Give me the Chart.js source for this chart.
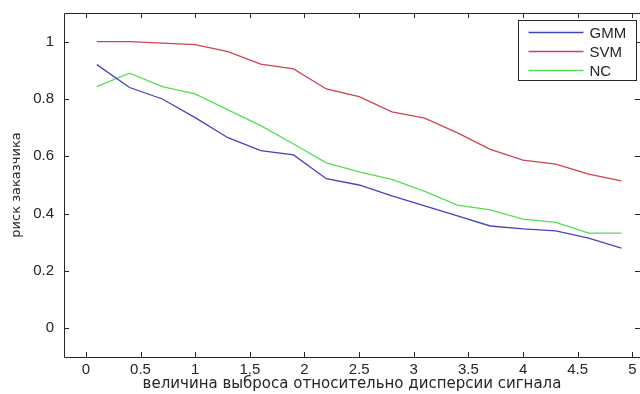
<!DOCTYPE html>
<html>
<head>
<meta charset="utf-8">
<script src="https://cdn.jsdelivr.net/npm/chart.js@4.4.1/dist/chart.umd.min.js"></script>
<style>
  html, body { margin: 0; padding: 0; background: #ffffff; }
  #wrap { width: 640px; height: 394px; position: relative; }
</style>
</head>
<body>
<div id="wrap"><canvas id="c" width="640" height="394"></canvas></div>
<script>
// ---- data ----
const xValues = [0.1, 0.4, 0.7, 1.0, 1.3, 1.6, 1.9, 2.2, 2.5, 2.8, 3.1, 3.4, 3.7, 4.0, 4.3, 4.6, 4.9];
const gmm = [0.92, 0.84, 0.80, 0.735, 0.665, 0.62, 0.605, 0.522, 0.50, 0.462, 0.427, 0.392, 0.357, 0.347, 0.34, 0.315, 0.28];
const svm = [1.0, 1.0, 0.995, 0.99, 0.965, 0.922, 0.905, 0.835, 0.808, 0.755, 0.733, 0.682, 0.624, 0.587, 0.573, 0.538, 0.514];
const nc  = [0.843, 0.89, 0.843, 0.818, 0.762, 0.707, 0.643, 0.577, 0.546, 0.52, 0.478, 0.43, 0.413, 0.381, 0.37, 0.332, 0.332];
const seriesNames = ['GMM', 'SVM', 'NC'];
const xTickValues = [0, 0.5, 1, 1.5, 2, 2.5, 3, 3.5, 4, 4.5, 5];
const yTickValues = [0, 0.2, 0.4, 0.6, 0.8, 1];
const xTitle = 'величина выброса относительно дисперсии сигнала';
const yTitle = 'риск заказчика';

const colors = ['#4444bb', '#cc4455', '#55dd55'];
const FONT = '"Liberation Sans", Arial, sans-serif';
const TFONT = '"DejaVu Sans", sans-serif';
const AXIS = '#262626';

function toPoints(vals) { return xValues.map((x, i) => ({ x: x, y: vals[i] })); }

const boxPlugin = {
  id: 'matlabBox',
  afterDatasetsDraw(chart) {
    const ctx = chart.ctx;
    const a = chart.chartArea;
    const xs = chart.scales.x, ys = chart.scales.y;
    const L = 5;
    ctx.save();
    ctx.strokeStyle = AXIS;
    ctx.lineWidth = 1;
    ctx.beginPath();
    ctx.rect(Math.round(a.left) + 0.5, Math.round(a.top) + 0.5, Math.round(a.right - a.left), Math.round(a.bottom - a.top));
    ctx.stroke();
    ctx.beginPath();
    xs.ticks.forEach(t => {
      const px = Math.round(xs.getPixelForValue(t.value)) + 0.5;
      ctx.moveTo(px, a.bottom); ctx.lineTo(px, a.bottom - L);
      ctx.moveTo(px, a.top); ctx.lineTo(px, a.top + L);
    });
    ys.ticks.forEach(t => {
      const py = Math.round(ys.getPixelForValue(t.value)) + 0.5;
      ctx.moveTo(a.left, py); ctx.lineTo(a.left + L, py);
      ctx.moveTo(a.right, py); ctx.lineTo(a.right - L, py);
    });
    ctx.stroke();

    // legend box (top-right, inside axes)
    const bw = 118, bh = 60;
    const bx = Math.round(a.right - 4 - bw) + 0.5, by = Math.round(a.top + 7) + 0.5;
    ctx.fillStyle = '#ffffff';
    ctx.fillRect(bx, by, bw, bh);
    ctx.strokeStyle = AXIS;
    ctx.strokeRect(bx, by, bw, bh);
    ctx.font = '15px ' + FONT;
    ctx.textBaseline = 'middle';
    ctx.textAlign = 'left';
    chart.data.datasets.forEach((ds, i) => {
      const cy = Math.round(by + 11 + i * 19) + 0.5;
      ctx.strokeStyle = ds.borderColor;
      ctx.lineWidth = 1.3;
      ctx.beginPath();
      ctx.moveTo(bx + 10, cy); ctx.lineTo(bx + 65, cy);
      ctx.stroke();
      ctx.fillStyle = AXIS;
      ctx.fillText(ds.label, bx + 71, cy + 1);
    });
    ctx.restore();
  }
};

new Chart(document.getElementById('c'), {
  type: 'line',
  data: {
    datasets: [
      { label: seriesNames[0], data: toPoints(gmm), borderColor: colors[0] },
      { label: seriesNames[1], data: toPoints(svm), borderColor: colors[1] },
      { label: seriesNames[2], data: toPoints(nc),  borderColor: colors[2] }
    ].map(d => Object.assign(d, { borderWidth: 1.3, pointRadius: 0, tension: 0, fill: false }))
  },
  options: {
    responsive: false,
    animation: false,
    layout: { padding: { top: 13, right: 0, left: 0, bottom: 0 } },
    plugins: { legend: { display: false }, tooltip: { enabled: false } },
    scales: {
      x: {
        type: 'linear',
        min: -0.2, max: 5.07,
        afterBuildTicks: s => { s.ticks = xTickValues.map(v => ({ value: v })); },
        afterFit: s => { s.height = 37; s.paddingLeft = 0; s.paddingRight = 0; },
        grid: { display: false, drawTicks: false },
        border: { display: false },
        ticks: { padding: 4, color: AXIS, font: { family: FONT, size: 15 }, maxRotation: 0, callback: v => String(v) },
        title: { display: true, text: xTitle, color: AXIS, font: { family: TFONT, size: 15 }, padding: { top: 0, bottom: 1 } }
      },
      y: {
        type: 'linear',
        min: -0.1, max: 1.1,
        afterBuildTicks: s => { s.ticks = yTickValues.map(v => ({ value: v })); },
        afterFit: s => { s.width = 64; s.paddingTop = 0; s.paddingBottom = 0; },
        grid: { display: false, drawTicks: false },
        border: { display: false },
        ticks: { padding: 10, color: AXIS, font: { family: FONT, size: 15 }, callback: v => String(v) },
        title: { display: true, text: yTitle, color: AXIS, font: { family: TFONT, size: 13 }, padding: { top: 9, bottom: 0 } }
      }
    }
  },
  plugins: [boxPlugin]
});
</script>
</body>
</html>
